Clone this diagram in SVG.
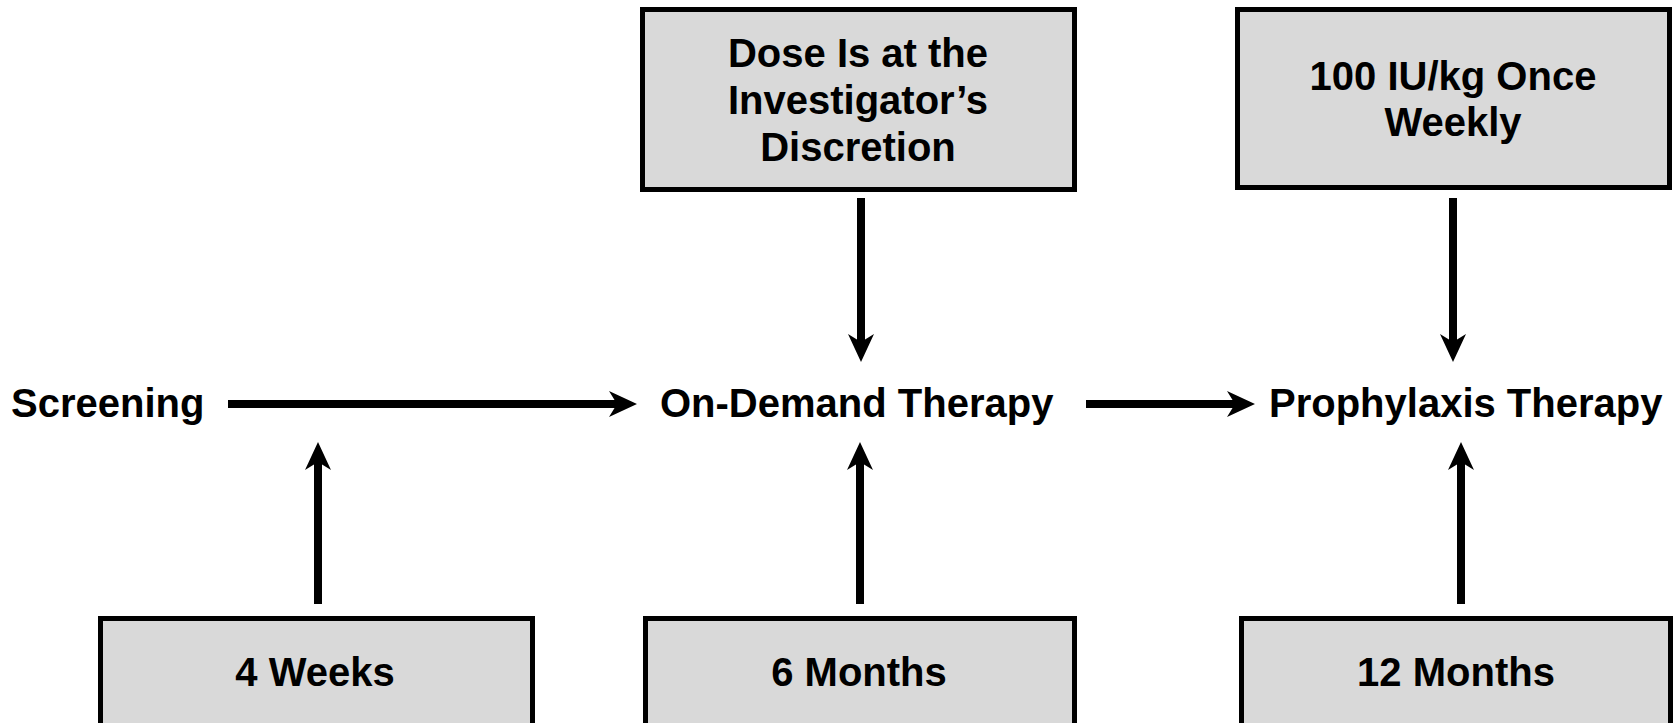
<svg xmlns="http://www.w3.org/2000/svg" width="1676" height="723" viewBox="0 0 1676 723">
<style>
.box{fill:#d9d9d9;stroke:#000;stroke-width:5}
.t{font-family:"Liberation Sans",Arial,sans-serif;font-weight:bold;font-size:40px;fill:#000}
.c{text-anchor:middle}
.ln{stroke:#000;stroke-width:8;fill:none;marker-end:url(#ah)}
</style>
<defs>
<marker id="ah" markerUnits="userSpaceOnUse" viewBox="0 -14 29 28" markerWidth="29" markerHeight="28" refX="8" refY="0" orient="auto">
<path d="M0,-13 L28,0 L0,13 L8,0 Z" fill="#000"/>
</marker>
</defs>
<rect width="1676" height="723" fill="#fff"/>
<g id="connectors">
<line class="ln" x1="228" y1="404" x2="617" y2="404"/>
<line class="ln" x1="1086" y1="404" x2="1235" y2="404"/>
<line class="ln" x1="861" y1="198" x2="861" y2="342"/>
<line class="ln" x1="1453" y1="198" x2="1453" y2="342"/>
<line class="ln" x1="318" y1="604" x2="318" y2="462"/>
<line class="ln" x1="860" y1="604" x2="860" y2="462"/>
<line class="ln" x1="1461" y1="604" x2="1461" y2="462"/>
</g>
<g id="screening"><text class="t" x="11" y="417">Screening</text></g>
<g id="ondemand"><text class="t" x="660" y="417">On-Demand Therapy</text></g>
<g id="prophylaxis"><text class="t" x="1269" y="417">Prophylaxis Therapy</text></g>
<g id="dose">
<rect class="box" x="642.5" y="9.5" width="432" height="180"/>
<text class="t c" x="858" y="67">Dose Is at the</text>
<text class="t c" x="858" y="114">Investigator’s</text>
<text class="t c" x="858" y="161">Discretion</text>
</g>
<g id="weekly">
<rect class="box" x="1237.5" y="9.5" width="432" height="178"/>
<text class="t c" x="1453" y="90">100 IU/kg Once</text>
<text class="t c" x="1453" y="136">Weekly</text>
</g>
<g id="weeks4">
<rect class="box" x="100.5" y="618.5" width="432" height="120"/>
<text class="t c" x="315" y="686">4 Weeks</text>
</g>
<g id="months6">
<rect class="box" x="645.5" y="618.5" width="429" height="120"/>
<text class="t c" x="859" y="686">6 Months</text>
</g>
<g id="months12">
<rect class="box" x="1241.5" y="618.5" width="429" height="120"/>
<text class="t c" x="1456" y="686">12 Months</text>
</g>
</svg>
